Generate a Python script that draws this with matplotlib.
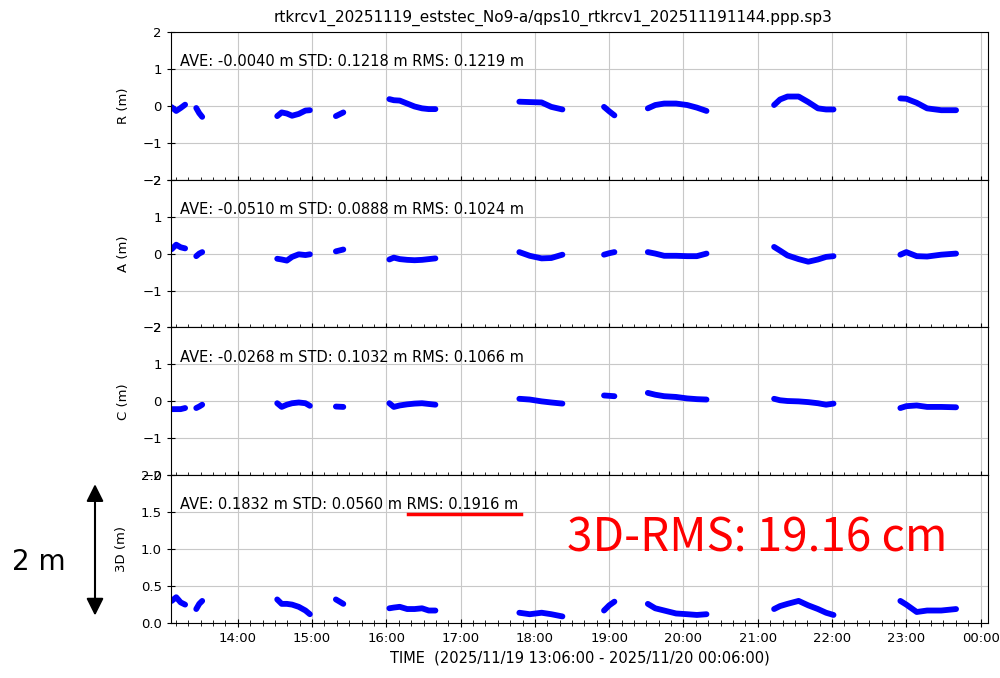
import datetime as dt
import matplotlib
matplotlib.use("Agg")
import matplotlib.pyplot as plt
import matplotlib.dates as mdates
from matplotlib.patches import FancyArrowPatch
from matplotlib.lines import Line2D

# --- values (hours of 2025/11/19) ---
seg_hours = [
    [13.11, 13.17, 13.23, 13.29],
    [13.44, 13.48, 13.52],
    [14.53, 14.59, 14.66, 14.73, 14.82, 14.91, 14.97],
    [15.32, 15.42],
    [16.04, 16.10, 16.18, 16.28, 16.38, 16.48, 16.57, 16.66],
    [17.79, 17.93, 18.09, 18.22, 18.37],
    [18.93, 19.00, 19.07],
    [19.52, 19.62, 19.74, 19.90, 20.05, 20.18, 20.31],
    [21.22, 21.30, 21.40, 21.55, 21.68, 21.81, 21.92, 22.02],
    [22.92, 23.00, 23.14, 23.28, 23.47, 23.67],
]

r_vals = [
    [-0.04, -0.14, -0.06, 0.03],
    [-0.06, -0.20, -0.30],
    [-0.28, -0.18, -0.21, -0.27, -0.22, -0.13, -0.12],
    [-0.28, -0.18],
    [0.18, 0.15, 0.14, 0.06, -0.02, -0.07, -0.09, -0.09],
    [0.11, 0.10, 0.09, -0.03, -0.10],
    [-0.03, -0.15, -0.26],
    [-0.07, 0.02, 0.06, 0.06, 0.02, -0.05, -0.14],
    [0.02, 0.17, 0.25, 0.25, 0.10, -0.07, -0.10, -0.10],
    [0.20, 0.19, 0.08, -0.07, -0.12, -0.12],
]

a_vals = [
    [0.12, 0.24, 0.17, 0.14],
    [-0.07, 0.00, 0.04],
    [-0.14, -0.16, -0.19, -0.09, -0.02, -0.04, -0.02],
    [0.06, 0.11],
    [-0.16, -0.11, -0.15, -0.17, -0.18, -0.17, -0.15, -0.13],
    [0.04, -0.06, -0.13, -0.12, -0.03],
    [-0.03, 0.01, 0.04],
    [0.04, 0.00, -0.06, -0.06, -0.07, -0.07, 0.00],
    [0.18, 0.08, -0.05, -0.15, -0.22, -0.16, -0.09, -0.07],
    [-0.03, 0.04, -0.07, -0.08, -0.03, 0.00],
]

c_vals = [
    [-0.21, -0.21, -0.21, -0.18],
    [-0.18, -0.14, -0.09],
    [-0.05, -0.15, -0.09, -0.05, -0.03, -0.05, -0.12],
    [-0.14, -0.15],
    [-0.05, -0.15, -0.11, -0.08, -0.06, -0.05, -0.07, -0.09],
    [0.07, 0.05, 0.00, -0.03, -0.06],
    [0.16, 0.15, 0.14],
    [0.23, 0.18, 0.14, 0.12, 0.08, 0.06, 0.05],
    [0.07, 0.03, 0.01, 0.00, -0.02, -0.05, -0.09, -0.06],
    [-0.18, -0.13, -0.11, -0.15, -0.15, -0.16],
]

d3_vals = [
    [0.30, 0.35, 0.28, 0.25],
    [0.19, 0.26, 0.30],
    [0.32, 0.26, 0.26, 0.25, 0.22, 0.17, 0.12],
    [0.32, 0.26],
    [0.20, 0.21, 0.22, 0.19, 0.19, 0.20, 0.17, 0.17],
    [0.14, 0.12, 0.14, 0.12, 0.09],
    [0.17, 0.24, 0.29],
    [0.26, 0.20, 0.17, 0.13, 0.12, 0.11, 0.12],
    [0.19, 0.23, 0.26, 0.30, 0.24, 0.19, 0.14, 0.11],
    [0.30, 0.25, 0.15, 0.17, 0.17, 0.19],
]

ylabels = ["R (m)", "A (m)", "C (m)", "3D (m)"]
stats = [
    "AVE: -0.0040 m STD: 0.1218 m RMS: 0.1219 m",
    "AVE: -0.0510 m STD: 0.0888 m RMS: 0.1024 m",
    "AVE: -0.0268 m STD: 0.1032 m RMS: 0.1066 m",
    "AVE: 0.1832 m STD: 0.0560 m RMS: 0.1916 m",
]
title = "rtkrcv1_20251119_eststec_No9-a/qps10_rtkrcv1_202511191144.ppp.sp3"
xlabel = "TIME  (2025/11/19 13:06:00 - 2025/11/20 00:06:00)"

day0 = dt.datetime(2025, 11, 19)
t_start = day0 + dt.timedelta(hours=13, minutes=6)
t_end = day0 + dt.timedelta(hours=24, minutes=6)


def to_time(hours):
    return [day0 + dt.timedelta(hours=h) for h in hours]


fig, axes = plt.subplots(4, 1, figsize=(10, 6.78), dpi=100, sharex=True)
fig.subplots_adjust(left=0.171, right=0.988, top=0.953, bottom=0.081, hspace=0)

for ax, vals, lab, txt in zip(axes, [r_vals, a_vals, c_vals, d3_vals], ylabels, stats):
    for hrs, v in zip(seg_hours, vals):
        ax.plot(to_time(hrs), v, '-', color='blue', lw=4.2, solid_capstyle='round')
    ax.set_ylabel(lab, fontsize=9.5, labelpad=9)
    ax.text(0.011, 0.80, txt, transform=ax.transAxes, fontsize=10.5, va='center')
    ax.grid(True, which='major', color='#c8c8c8', lw=0.8)
    ax.tick_params(axis='both', which='both', direction='inout', labelsize=9.5)
    ax.tick_params(which='major', length=6)
    ax.tick_params(which='minor', length=4)
    if lab == "3D (m)":
        ax.set_ylim(0, 2)
        ax.set_yticks([0, 0.5, 1.0, 1.5, 2.0])
    else:
        ax.set_ylim(-2, 2)
        ax.set_yticks([-2, -1, 0, 1, 2])

axes[-1].set_xlim(t_start, t_end)
axes[-1].xaxis.set_major_locator(mdates.HourLocator())
axes[-1].xaxis.set_minor_locator(mdates.MinuteLocator(byminute=range(0, 60, 10)))
axes[-1].xaxis.set_major_formatter(mdates.DateFormatter('%H:%M'))
axes[-1].set_xlabel(xlabel, fontsize=10.5)
axes[0].set_title(title, fontsize=11, pad=7, x=0.468)

# annotations added on top of the plot
fig.add_artist(Line2D([0.408, 0.521], [0.242, 0.242], transform=fig.transFigure,
                      color='red', lw=2.5))
fig.text(0.567, 0.206, "3D-RMS: 19.16 cm", color='red', fontsize=33,
         family=['Noto Sans CJK JP', 'DejaVu Sans'], va='center', ha='left')
fig.text(0.012, 0.171, "2 m", color='black', fontsize=20,
         family=['DejaVu Sans'], va='center', ha='left')
fig.add_artist(FancyArrowPatch((0.095, 0.290), (0.095, 0.088), transform=fig.transFigure,
                               arrowstyle='<|-|>', mutation_scale=26, lw=1.5, color='black'))

plt.savefig("out.png", dpi=100)
